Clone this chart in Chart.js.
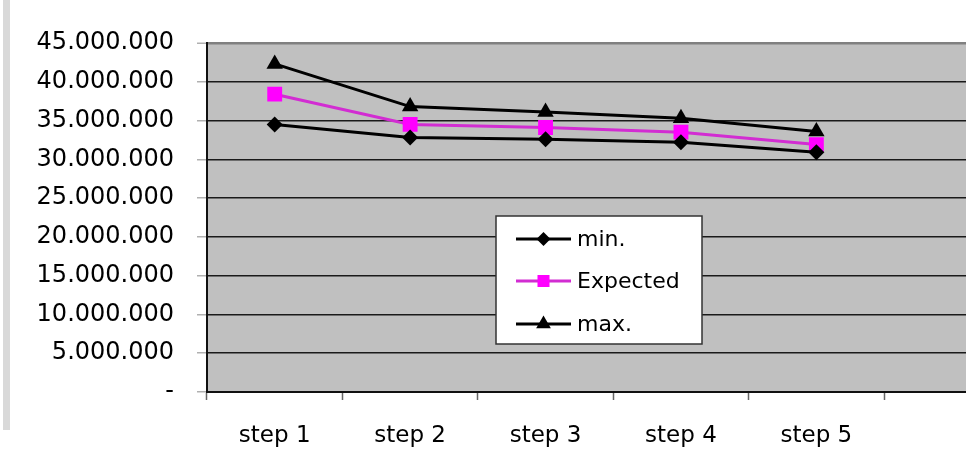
<!DOCTYPE html>
<html>
<head>
<meta charset="utf-8">
<script src="https://cdn.jsdelivr.net/npm/chart.js@4.4.1/dist/chart.umd.min.js"></script>
<style>
  html, body { margin: 0; padding: 0; background: #fff; overflow: hidden; width: 966px; height: 460px; }
  #wrap { position: absolute; left: 0; top: 0; width: 1030px; height: 460px; }
  #strip { position: absolute; left: 3px; top: 0; width: 7px; height: 430px; background: #d9d9d9; }
</style>
</head>
<body>
<div id="strip"></div>
<div id="wrap"><canvas id="c" width="1030" height="460"></canvas></div>
<script>
const categories = ['step 1', 'step 2', 'step 3', 'step 4', 'step 5', ''];
const minValues = [34500000, 32800000, 32600000, 32200000, 30900000];
const expectedValues = [38400000, 34500000, 34100000, 33500000, 31900000];
const maxValues = [42300000, 36800000, 36100000, 35300000, 33600000];
const seriesLabels = ['min.', 'Expected', 'max.'];
const yMin = 0, yMax = 45000000, yStep = 5000000;

function fmt(v) {
  if (v === 0) return '-';
  return String(Math.round(v)).replace(/\B(?=(\d{3})+(?!\d))/g, '.');
}

const plotBg = {
  id: 'plotBg',
  beforeDraw(chart) {
    const a = chart.chartArea, ctx = chart.ctx;
    ctx.save();
    ctx.fillStyle = '#c0c0c0';
    ctx.fillRect(a.left, a.top, a.right - a.left, a.bottom - a.top);
    ctx.restore();
  }
};

const boxLegend = {
  id: 'boxLegend',
  afterDraw(chart) {
    const ctx = chart.ctx;
    const x0 = 496, y0 = 216, w = 206, h = 128;
    ctx.save();
    ctx.fillStyle = '#fff';
    ctx.fillRect(x0, y0, w, h);
    ctx.strokeStyle = '#333';
    ctx.lineWidth = 1.5;
    ctx.strokeRect(x0, y0, w, h);
    const rows = [239, 281, 324];
    const radii = [7, 8.5, 8.5];
    chart.data.datasets.forEach((ds, i) => {
      const y = rows[i];
      ctx.strokeStyle = ds.borderColor;
      ctx.lineWidth = ds.borderWidth;
      ctx.beginPath();
      ctx.moveTo(516, y);
      ctx.lineTo(571, y);
      ctx.stroke();
      ctx.fillStyle = ds.pointBackgroundColor;
      ctx.strokeStyle = ds.pointBorderColor;
      Chart.helpers.drawPoint(ctx, { pointStyle: ds.pointStyle, radius: radii[i], rotation: 0, borderWidth: 0 }, 543.5, y);
      ctx.fillStyle = '#000';
      ctx.font = '22px "DejaVu Sans"';
      ctx.textBaseline = 'middle';
      ctx.textAlign = 'left';
      ctx.fillText(ds.label, 577, y + 1);
    });
    ctx.restore();
  }
};

new Chart(document.getElementById('c'), {
  type: 'line',
  data: {
    labels: categories,
    datasets: [
      { label: seriesLabels[0], data: minValues, borderColor: '#000', borderWidth: 3,
        pointStyle: 'rectRot', pointRadius: 8, pointBackgroundColor: '#000', pointBorderColor: '#000', pointBorderWidth: 0 },
      { label: seriesLabels[1], data: expectedValues, borderColor: '#d22cd2', borderWidth: 3,
        pointStyle: 'rect', pointRadius: 10.5, pointBackgroundColor: '#ff00ff', pointBorderColor: '#ff00ff', pointBorderWidth: 0 },
      { label: seriesLabels[2], data: maxValues, borderColor: '#000', borderWidth: 3,
        pointStyle: 'triangle', pointRadius: 9.5, pointBackgroundColor: '#000', pointBorderColor: '#000', pointBorderWidth: 0 }
    ]
  },
  options: {
    responsive: false,
    animation: false,
    devicePixelRatio: 1,
    layout: { padding: { top: 43, right: 2, left: 0, bottom: 0 } },
    plugins: { legend: { display: false }, tooltip: { enabled: false } },
    elements: { line: { tension: 0 } },
    scales: {
      x: {
        offset: true,
        grid: { offset: true, drawOnChartArea: false, drawTicks: true, tickLength: 8, tickColor: '#666', tickWidth: 1.5 },
        border: { display: true, color: '#111', width: 2 },
        ticks: { color: '#000', font: { family: 'DejaVu Sans', size: 23 }, padding: 22, maxRotation: 0, autoSkip: false },
        afterFit(scale) { scale.height = 68; }
      },
      y: {
        min: yMin, max: yMax,
        ticks: { stepSize: yStep, color: '#000', font: { family: 'DejaVu Sans', size: 24 }, padding: 23,
                 callback: (v) => fmt(v) },
        grid: {
          color: (c) => (c.tick && c.tick.value === yMax) ? '#808080' : '#1a1a1a',
          lineWidth: (c) => (c.tick && c.tick.value === yMax) ? 2.5 : 1.5,
          tickLength: 10, tickColor: '#b0b0b0', tickWidth: 1.5
        },
        border: { display: true, color: '#111', width: 2 },
        afterFit(scale) { scale.width = 207; }
      }
    }
  },
  plugins: [plotBg, boxLegend]
});
</script>
</body>
</html>
